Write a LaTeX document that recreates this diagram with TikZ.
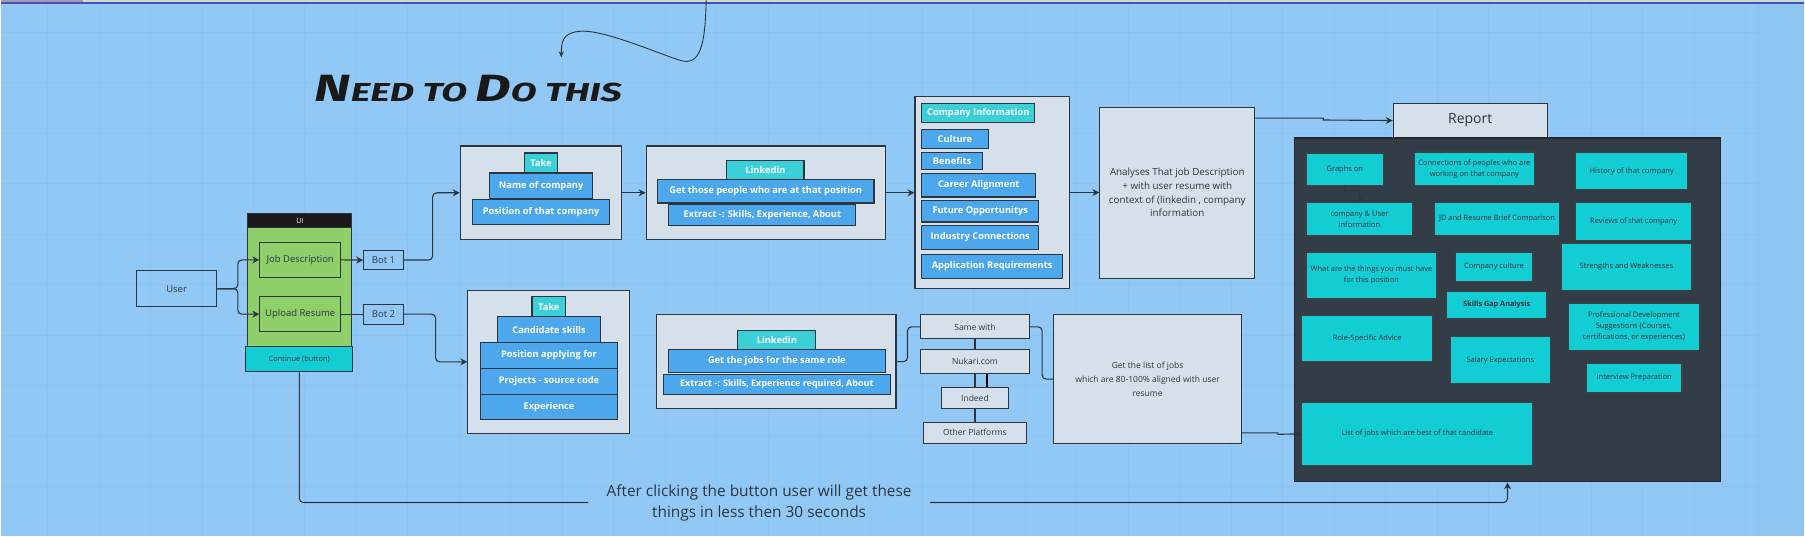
\documentclass[tikz,border=0pt]{standalone}
\usepackage{fontspec}
\setmainfont{Open Sans}
\newfontfamily\handfont{Fira Sans}[FakeStretch=1.45]
\usetikzlibrary{arrows.meta,positioning,calc}
\definecolor{canvas}{HTML}{92C8F5}
\definecolor{gridc}{HTML}{8CC3F0}
\definecolor{ink}{HTML}{2C3640}
\definecolor{paper}{HTML}{D6E0EA}
\definecolor{skyblue}{HTML}{4CA7EC}
\definecolor{tagcyan}{HTML}{3BD0D8}
\definecolor{tealbox}{HTML}{12CDD4}
\definecolor{slate}{HTML}{333D47}
\definecolor{leaf}{HTML}{8ECF6A}
\tikzset{
  cell/.style={draw=ink, line width=1.1pt, inner sep=1pt, align=center, text=ink,
               font=\fontsize{8.5}{13.7}\selectfont},
  sz/.style 2 args={minimum width=#1pt, minimum height=#2pt},
  holder/.style={cell, fill=paper},
  plainbox/.style={cell, font=\fontsize{9.5}{11}\selectfont},
  bluebox/.style={cell, fill=skyblue, text=white, font=\fontsize{9.3}{10}\selectfont\bfseries},
  tagbox/.style={bluebox, fill=tagcyan},
  rpt/.style={cell, fill=tealbox, draw=black!75, text=ink!90!black, font=\fontsize{7.5}{11}\selectfont},
  arr/.style={-{Stealth[length=7pt,width=7pt]}, draw=ink, line width=1.1pt, rounded corners=4pt},
  ln/.style={draw=ink, line width=1.1pt, rounded corners=4pt},
}

\begin{document}
\begin{tikzpicture}[x=1pt,y=-1pt]
  \fill[canvas] (0,0) rectangle (1805,536);
  \fill[gridc!70!canvas] (1757,0) rectangle (1805,536);
  \foreach \gx in {46.7,98.2,...,1805} \draw[gridc, line width=0.5pt] (\gx,0) -- (\gx,536);
  \foreach \gy in {31.7,82.2,...,536} \draw[gridc, line width=0.5pt] (0,\gy) -- (1805,\gy);
  \fill[green!25!gray!35] (0,0) rectangle (1805,1.4);
  \fill[gray!90!blue!70] (0,0) rectangle (82,1.4);
  \draw[blue!55!gray!90, line width=1.5pt] (0,2.7) -- (1805,2.7);

  % hint arrow and title
  \coordinate (hintstart) at (706,0);
  \coordinate (hintend) at (561,57);
  \draw[ink, line width=0.9pt, -{Stealth[length=6pt,width=5pt]}] (hintstart)
    .. controls (705,45) and (700,66) .. (680,60)
    .. controls (650,50) and (600,28) .. (578,31)
    .. controls (562,33) and (561,42) .. (hintend);
  \node[text=black!90, font=\handfont\bfseries\itshape, inner sep=0pt] (title) at (468,88.5)
    {\fontsize{38}{38}\selectfont N\fontsize{26}{26}\selectfont EED TO \fontsize{38}{38}\selectfont D\fontsize{26}{26}\selectfont O THIS};

  % input side
  \node[plainbox, sz={80.6}{35.6}] (user) at (176,288.5) {User};
  \node[cell, fill=leaf, sz={104}{118.7}] (ui) at (299.3,286.7) {};
  \node[cell, fill=black!90, text=white, sz={104}{14}, font=\fontsize{7}{8}\selectfont] (uihead) at (299.3,220.3) {UI};
  \node[plainbox, sz={80.7}{35.3}] (jobdesc) at (299.7,259.7) {Job Description};
  \node[plainbox, sz={80.7}{35.4}] (upload) at (299.7,314) {Upload Resume};
  \node[cell, fill=tealbox, sz={107}{25}, font=\fontsize{7.4}{9}\selectfont] (continue) at (298.8,359.2) {Continue (button)};
  \node[plainbox, sz={39.4}{19.7}] (bot1) at (383,259.8) {Bot 1};
  \node[plainbox, sz={39.4}{20}] (bot2) at (383,314) {Bot 2};

  % company route
  \node[holder, sz={161.7}{93.6}] (cont1) at (540.8,192.5) {};
  \node[tagbox, sz={33.7}{20}] (take1) at (540.8,162.7) {Take};
  \node[bluebox, sz={103}{25.6}] (compname) at (540.8,185.5) {Name of company};
  \node[bluebox, sz={137.7}{25}] (comppos) at (540.8,211.8) {Position of that company};
  \node[holder, sz={239.7}{93.6}] (cont2) at (765.8,192.5) {};
  \node[tagbox, sz={77.3}{19}] (link1) at (765.3,169.8) {Linkedin};
  \node[bluebox, sz={217}{23.4}] (people) at (765.5,191) {Get those people who are at that position};
  \node[bluebox, sz={187}{21.3}] (extract1) at (762.2,214.7) {Extract -: Skills, Experience, About};
  \node[holder, sz={155}{192.3}] (cont5) at (992.5,192.2) {};
  \node[tagbox, sz={113.3}{19.6}] (compinfo) at (978.3,112.5) {Company Information};
  \node[bluebox, sz={66.6}{19}] (culture) at (955,138.8) {Culture};
  \node[bluebox, sz={61}{17}] (benefits) at (952.2,160.8) {Benefits};
  \node[bluebox, sz={114.3}{23.4}] (career) at (978.8,185) {Career Alignment};
  \node[bluebox, sz={117.3}{21.4}] (future) at (980.3,211) {Future Opportunitys};
  \node[bluebox, sz={117.3}{24}] (industry) at (980.3,237) {Industry Connections};
  \node[bluebox, sz={141}{24}] (apply) at (992.2,266.3) {Application Requirements};
  \node[holder, sz={155}{171.6}, font=\fontsize{9.8}{13.7}\selectfont] (cont6) at (1177.5,192.5)
    {Analyses That job Description\\+ with user resume with\\context of (linkedin , company\\information};

  % resume route
  \node[holder, sz={162}{143.3}] (cont3) at (548.5,361.7) {};
  \node[tagbox, sz={33.6}{19.8}] (take2) at (548.5,306.6) {Take};
  \node[bluebox, sz={102.7}{25.6}] (candskills) at (548.7,329.5) {Candidate skills};
  \node[bluebox, sz={137.3}{25.7}] (posapply) at (548.7,355.2) {Position applying for};
  \node[bluebox, sz={137.3}{26}] (projects) at (548.7,381) {Projects - source code};
  \node[bluebox, sz={137.3}{25.3}] (experience) at (548.7,406.7) {Experience};
  \node[holder, sz={239.3}{93.6}] (cont4) at (776.3,361.5) {};
  \node[tagbox, sz={78}{19.3}] (link2) at (776.7,339.7) {Linkedin};
  \node[bluebox, sz={216.7}{23.4}] (samerole) at (776.7,361) {Get the jobs for the same role};
  \node[bluebox, sz={226.7}{20.3}, font=\fontsize{9}{10}\selectfont\bfseries] (extract2) at (776.7,384.2) {Extract -: Skills, Experience required, About};
  \node[holder, sz={108.6}{24}] (same) at (975,326.7) {Same with};
  \node[holder, sz={108.6}{24}] (nukari) at (975,361.3) {Nukari.com};
  \node[holder, sz={67.4}{21.7}] (indeed) at (975,397.8) {Indeed};
  \node[holder, sz={103.4}{21.3}] (other) at (975,432.7) {Other Platforms};
  \node[holder, sz={187.7}{128.6}] (cont7) at (1147.8,379)
    {Get the list of jobs\\which are 80-100\% aligned with user\\resume};

  % report
  \node[holder, sz={154}{33.7}, font=\fontsize{14}{16}\selectfont] (report) at (1470.7,120.2) {Report};
  \node[cell, fill=slate, draw=black!85, sz={426}{344}] (panel) at (1508,309.7) {};
  \node[rpt, sz={77.7}{31.7}] (graphs) at (1345.2,169.2) {Graphs on};
  \node[rpt, sz={120.3}{33.6}] (connect) at (1474.8,168.5) {Connections of peoples who are\\working on that company};
  \node[rpt, sz={112}{37.7}] (history) at (1632.3,170.8) {History of that company};
  \node[rpt, sz={107}{33.3}] (compuser) at (1359.8,218.7) {company \& User\\information};
  \node[rpt, sz={125}{33.3}] (jdcomp) at (1497.5,218.7) {JD and Resume Brief Comparison};
  \node[rpt, sz={116}{38}] (reviews) at (1634.3,221) {Reviews of that company};
  \node[rpt, sz={131}{46}] (musthave) at (1371.8,275.3) {What are the things you must have\\for this position};
  \node[rpt, sz={77.6}{29}] (compculture) at (1494.5,266.8) {Company culture};
  \node[rpt, sz={130.6}{46.3}] (strengths) at (1627,266.8) {Strengths and Weaknesses};
  \node[rpt, sz={100}{27}, font=\fontsize{7.3}{10}\selectfont\bfseries] (skillsgap) at (1497.3,304.8) {Skills Gap Analysis};
  \node[rpt, sz={131}{46}] (roleadv) at (1367.5,338.7) {Role-Specific Advice};
  \node[rpt, sz={131}{46.7}] (profdev) at (1634.5,326.7) {Professional Development\\Suggestions (Courses,\\certifications, or experiences)};
  \node[rpt, sz={100.3}{46.6}] (salary) at (1500.8,360) {Salary Expectations};
  \node[rpt, sz={95.7}{29}] (interview) at (1634.8,377.8) {Interview Preparation};
  \node[rpt, sz={231.3}{62.7}] (listjobs) at (1417.7,433.7) {List of jobs which are best of that candidate};

  \node[text=ink, font=\fontsize{15.4}{21}\selectfont, sz={342}{40}, inner sep=0pt, align=center] (note) at (759,502.5)
    {After clicking the button user will get these\\things in less then 30 seconds};

  % connectors
  \draw[arr] (user.east) -- ++(20.4,0) |- (jobdesc.west);
  \draw[arr] (user.east) -- ++(20.4,0) |- (upload.west);
  \draw[arr] (jobdesc.east) -- (bot1.west);
  \draw[ln] (upload.east) -- (bot2.west);
  \draw[arr] (bot1.east) -- ++(29,0) |- (cont1.west);
  \draw[arr] (bot2.east) -- ++(32,0) |- (cont3.west);
  \draw[arr] (cont1.east) -- (cont2.west);
  \draw[arr] (cont2.east) -- (cont2.east -| cont5.west);
  \draw[arr] (cont5.east) -- (cont5.east -| cont6.west);
  \draw[arr, sharp corners] ($(cont6.north east)+(0,11.6)$) -- ++(68,0) -- ++(0,1.9) -- (report.west);
  \draw[ln] (cont4.east) -- ++(11,0) |- (same.west);
  \draw[ln] (same.east) -- ++(12.4,0) |- (cont7.west);
  \draw[ln] (same.south) -- (nukari.north);
  \draw[ln] (nukari.south) -- (indeed.north);
  \draw[ln] (indeed.south) -- (other.north);
  \draw[black, line width=2.2pt] ([xshift=12pt]nukari.south) -- ([xshift=12pt]nukari.south |- indeed.north);
  \draw[arr, sharp corners] ($(cont7.south east)+(0,-11)$) -- ++(36,0) -- ++(0,1.4) -- (listjobs.west);
  \draw[-{Stealth[length=5pt,width=5pt]}, draw=ink, line width=0.9pt] (graphs.south) -- ++(0,5) -| (compuser.north);
  \draw[ln] (continue.south) |- (note.west);
  \draw[arr] (note.east) -| (panel.south);
\end{tikzpicture}
\end{document}
